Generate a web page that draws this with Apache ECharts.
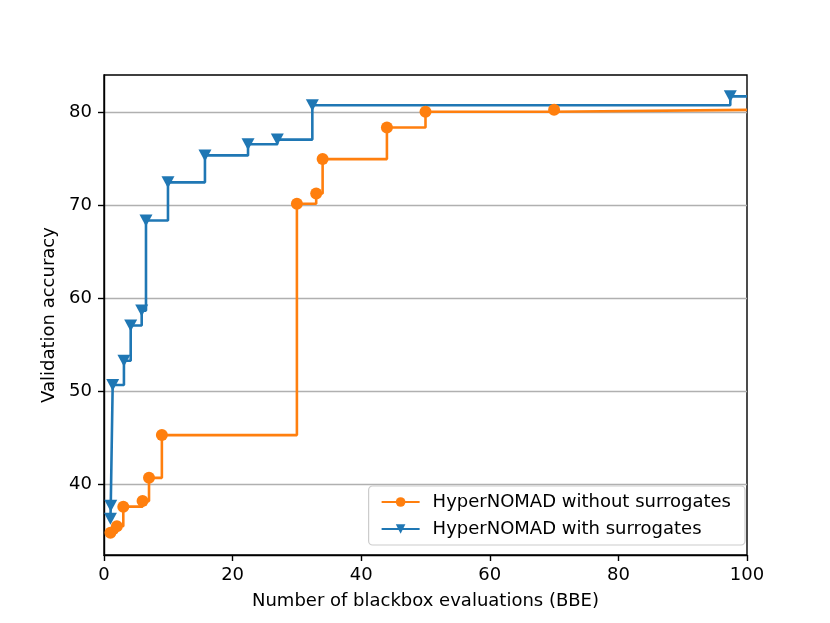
<!DOCTYPE html>
<html>
<head>
<meta charset="utf-8">
<script src="https://cdn.jsdelivr.net/npm/echarts@6/dist/echarts.min.js"></script>
<style>html,body{margin:0;padding:0;background:#fff}#c{width:830px;height:623px}</style>
</head>
<body>
<div id="c"></div>
<script>
const noSurrX = [1, 2, 3, 6, 7, 9, 30, 33, 34, 44, 50, 70, 100];
const noSurrY = [34.8, 35.5, 37.6, 38.2, 40.7, 45.3, 70.2, 71.3, 75.0, 78.4, 80.1, 80.3, 80.3];
const surrX = [1, 1.05, 1.35, 3.1, 4.15, 5.86, 6.53, 9.95, 15.7, 22.4, 26.95, 32.4, 97.4, 100];
const surrY = [36.3, 37.7, 50.7, 53.3, 57.1, 58.7, 68.4, 72.5, 75.4, 76.6, 77.1, 80.8, 81.75, 81.75];
const yTicks = [40, 50, 60, 70, 80];
const xTicks = [0, 20, 40, 60, 80, 100];

function pts(xs, ys) {
  return xs.map((x, i) => {
    const p = { value: [x, ys[i]] };
    if (i === xs.length - 1) p.symbol = 'none';
    return p;
  });
}

const font = 'DejaVu Sans';
const fs = 18;
const chart = echarts.init(document.getElementById('c'), null, { renderer: 'canvas' });
chart.setOption({
  animation: false,
  backgroundColor: '#fff',
  textStyle: { fontFamily: font },
  grid: { left: 104, right: 83, top: 75, bottom: 68, show: true, borderColor: '#000', borderWidth: 1.4, backgroundColor: 'transparent' },
  legend: {
    right: 85, bottom: 78,
    orient: 'vertical',
    data: ['HyperNOMAD without surrogates', 'HyperNOMAD with surrogates'],
    itemWidth: 38, itemHeight: 12, itemGap: 9,
    padding: [7, 14, 7, 12],
    borderColor: '#cccccc', borderWidth: 1.2, borderRadius: 4,
    backgroundColor: 'rgba(255,255,255,0.8)',
    textStyle: { fontFamily: font, fontSize: fs, color: '#000', padding: [0, 0, 0, 8] }
  },
  xAxis: {
    type: 'value', min: 0, max: 100, interval: 20,
    name: 'Number of blackbox evaluations (BBE)', nameLocation: 'middle', nameGap: 37,
    nameTextStyle: { fontFamily: font, fontSize: fs, color: '#000' },
    axisLine: { show: true, onZero: false, lineStyle: { color: '#000', width: 1.4 } },
    axisTick: { show: true, inside: false, length: 6, lineStyle: { color: '#000', width: 1.4 } },
    axisLabel: { fontFamily: font, fontSize: fs, color: '#000', margin: 11, customValues: xTicks },
    splitLine: { show: false }
  },
  yAxis: {
    type: 'value', min: 32.4, max: 84.05,
    name: 'Validation accuracy', nameLocation: 'middle', nameGap: 44,
    nameTextStyle: { fontFamily: font, fontSize: fs, color: '#000' },
    axisLine: { show: true, onZero: false, lineStyle: { color: '#000', width: 1.4 } },
    axisTick: { show: true, inside: false, length: 6, lineStyle: { color: '#000', width: 1.4 }, customValues: yTicks },
    axisLabel: { fontFamily: font, fontSize: fs, color: '#000', margin: 12, customValues: yTicks },
    splitLine: { show: true, lineStyle: { color: '#b0b0b0', width: 1.4 } }
  },
  series: [
    {
      name: 'HyperNOMAD with surrogates', type: 'line', step: 'end', z: 3,
      data: pts(surrX, surrY),
      symbol: 'triangle', symbolRotate: 180, symbolSize: [13, 12],
      showAllSymbol: true,
      itemStyle: { color: '#1f77b4' },
      lineStyle: { color: '#1f77b4', width: 2.6 }
    },
    {
      name: 'HyperNOMAD without surrogates', type: 'line', step: 'end', z: 4,
      data: pts(noSurrX, noSurrY),
      symbol: 'circle', symbolSize: 12,
      showAllSymbol: true,
      itemStyle: { color: '#ff7f0e' },
      lineStyle: { color: '#ff7f0e', width: 2.6 }
    }
  ]
});
</script>
</body>
</html>
